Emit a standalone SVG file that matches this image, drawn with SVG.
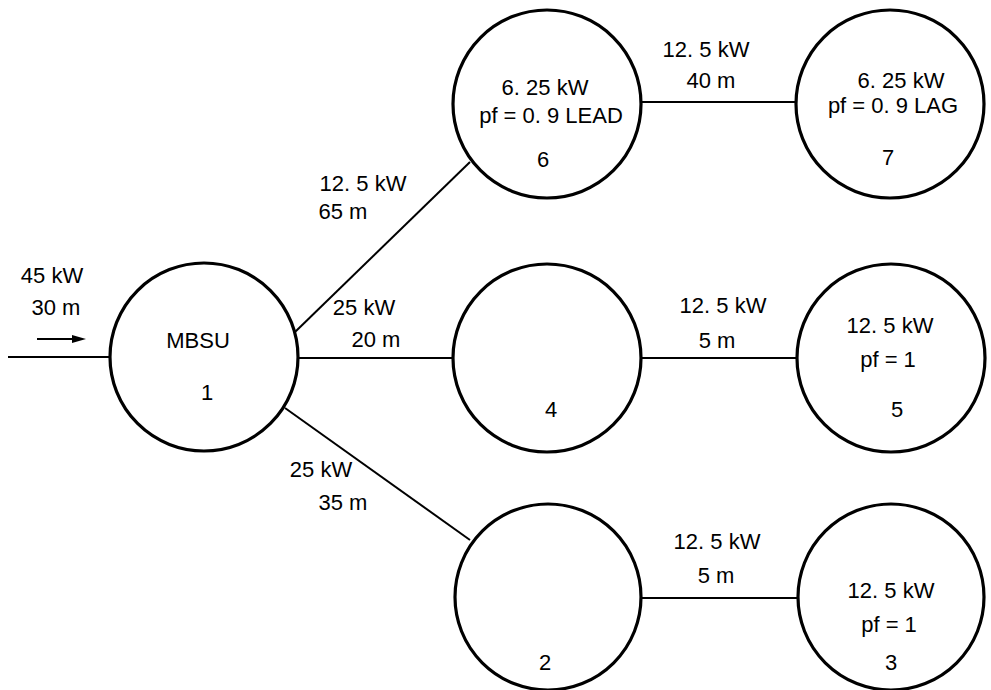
<svg xmlns="http://www.w3.org/2000/svg" width="991" height="690" viewBox="0 0 991 690">
<style>
.n{fill:none;stroke:#000;stroke-width:3.2}
.c{stroke:#000;stroke-width:2;fill:none}
text{font-family:"Liberation Sans",Arial,sans-serif;font-size:22px;fill:#000;text-anchor:middle}
</style>
<rect width="991" height="690" fill="#fff"/>
<g id="connectors">
<line class="c" x1="8" y1="357" x2="110" y2="357"/>
<line class="c" x1="37" y1="339" x2="73" y2="339"/>
<polygon points="72,335 86,339 72,343" fill="#000"/>
<line class="c" x1="295" y1="332" x2="470" y2="162"/>
<line class="c" x1="298" y1="358" x2="454" y2="358"/>
<line class="c" x1="285" y1="408" x2="470" y2="540"/>
<line class="c" x1="641" y1="102" x2="797" y2="102"/>
<line class="c" x1="641" y1="358" x2="797" y2="358"/>
<line class="c" x1="641" y1="598" x2="798" y2="598"/>
<text x="52" y="283">45 kW</text>
<text x="56" y="315">30 m</text>
<text x="363" y="191">12. 5 kW</text>
<text x="343" y="219">65 m</text>
<text x="364" y="315">25 kW</text>
<text x="376" y="347">20 m</text>
<text x="321" y="477">25 kW</text>
<text x="343" y="510">35 m</text>
<text x="706" y="57">12. 5 kW</text>
<text x="711" y="88">40 m</text>
<text x="723" y="313">12. 5 kW</text>
<text x="717" y="348">5 m</text>
<text x="717" y="549">12. 5 kW</text>
<text x="716" y="583">5 m</text>
</g>
<g id="node1">
<circle class="n" cx="204" cy="357" r="94"/>
<text x="198" y="348">MBSU</text>
<text x="207" y="400">1</text>
</g>
<g id="node6">
<circle class="n" cx="547" cy="104" r="94"/>
<text x="545" y="95">6. 25 kW</text>
<text x="551" y="123">pf = 0. 9 LEAD</text>
<text x="543" y="167">6</text>
</g>
<g id="node7">
<circle class="n" cx="890" cy="104" r="94"/>
<text x="901" y="88">6. 25 kW</text>
<text x="893" y="113">pf = 0. 9 LAG</text>
<text x="888" y="165">7</text>
</g>
<g id="node4">
<circle class="n" cx="547" cy="358" r="94"/>
<text x="551" y="417">4</text>
</g>
<g id="node5">
<circle class="n" cx="891" cy="358" r="94"/>
<text x="890" y="333">12. 5 kW</text>
<text x="888" y="367">pf = 1</text>
<text x="897" y="417">5</text>
</g>
<g id="node2">
<circle class="n" cx="548" cy="597" r="93"/>
<text x="545" y="670">2</text>
</g>
<g id="node3">
<circle class="n" cx="891" cy="597" r="93"/>
<text x="891" y="598">12. 5 kW</text>
<text x="889" y="632">pf = 1</text>
<text x="891" y="670">3</text>
</g>
</svg>
